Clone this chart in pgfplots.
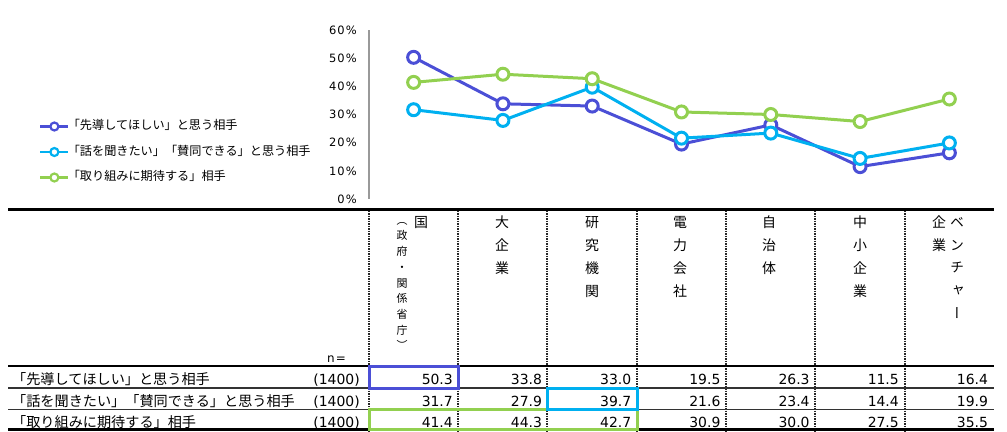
\documentclass[border=0pt]{standalone}
\usepackage{fontspec}
\usepackage{pgfplots}
\pgfplotsset{compat=1.18}
\setmainfont{DejaVu Sans}
\newfontfamily\jp{Noto Sans CJK JP}
\newfontfamily\jpv[RawFeature={+vert}]{Noto Sans CJK JP}
\newfontfamily\tickf[LetterSpace=10]{DejaVu Sans}
\definecolor{cblue}{HTML}{4B4FD6}
\definecolor{ccyan}{HTML}{00B0F0}
\definecolor{cgreen}{HTML}{92D050}
\newcommand{\vtext}[5]{% x, first center img y, pitch, baseline offset, chars
  \foreach \c [count=\i from 0] in {#5} {\node[anchor=base, inner sep=0pt] at (#1, {431-#2-#4-\i*#3}) {\c};}}
\begin{document}
\begin{tikzpicture}[x=1bp,y=1bp]
\begin{scope}[shift={(369bp,232bp)}]
\begin{axis}[
  at={(0bp,0bp)}, anchor=south west,
  scale only axis, width=625bp, height=169bp,
  xmin=-0.5, xmax=6.5, ymin=0, ymax=60,
  axis x line*=bottom, axis y line*=left,
  x axis line style={draw=none},
  y axis line style={draw=black!40, line width=1.3bp},
  xtick=\empty,
  ytick={0,10,...,60}, major tick length=0pt,
  yticklabel={\pgfmathprintnumber{\tick}\%},
  /pgf/number format/assume math mode=true,
  yticklabel style={font=\tickf\fontsize{11.5}{13}\selectfont, inner sep=0pt, anchor=east, xshift=-12bp},
  clip=false,
  every axis plot/.append style={line width=3bp, mark=*, mark size=6bp, mark options={fill=white, line width=3bp}},
  legend style={at={(-0.528,0.463)}, anchor=north west, draw=none, fill=none, inner sep=0pt, outer sep=0pt, row sep=14bp, font=\jp\fontsize{12.2}{13}\selectfont, nodes={inner sep=0pt, text height=9bp, text depth=2.5bp, anchor=west}, /tikz/every odd column/.append style={column sep=-2bp}},
  legend cell align=left,
  legend image code/.code={\draw[mark repeat=2, mark phase=2, mark size=4bp, line width=2.8bp, mark options={fill=white, line width=2.2bp}] plot coordinates {(0bp,0bp) (14bp,0bp) (28bp,0bp)};},
]
\addplot[cblue] coordinates {(0,50.3)(1,33.8)(2,33.0)(3,19.5)(4,26.3)(5,11.5)(6,16.4)};
\addlegendentry{「先導してほしい」と思う相手}
\addplot[ccyan] coordinates {(0,31.7)(1,27.9)(2,39.7)(3,21.6)(4,23.4)(5,14.4)(6,19.9)};
\addlegendentry{「話を聞きたい」「賛同できる」と思う相手}
\addplot[cgreen] coordinates {(0,41.4)(1,44.3)(2,42.7)(3,30.9)(4,30.0)(5,27.5)(6,35.5)};
\addlegendentry{「取り組みに期待する」相手}
\end{axis}
\end{scope}
\path (0,0) rectangle (1007,431);
% table rules
\draw[line width=3bp] (8,222) -- (994,222);
\foreach \x in {369,458,547,637,726,815,905}
  \draw[black!85, line width=1.2bp, dash pattern=on 1.5bp off 1bp] (\x,220.5) -- (\x,0);
\draw[line width=1.5bp] (8,65) -- (994,65);
\draw[black!80, line width=1.5bp] (8,43) -- (994,43);
\draw[black!80, line width=1.5bp] (8,21.5) -- (994,21.5);
\draw[line width=2.2bp] (8,1.5) -- (994,1.5);
% header
\begin{scope}[font=\jpv\fontsize{14}{16}\selectfont]
\vtext{421}{222}{23}{5.3}{国}
\vtext{502}{222}{23}{5.3}{大,企,業}
\vtext{592}{222}{23}{5.3}{研,究,機,関}
\vtext{680}{222}{23}{5.3}{電,力,会,社}
\vtext{769}{222}{23}{5.3}{自,治,体}
\vtext{860}{222}{23}{5.3}{中,小,企,業}
\vtext{957}{222}{22.8}{5.3}{ベ,ン,チ,ャ,ー}
\vtext{939}{222}{23}{5.3}{企,業}
\end{scope}
\begin{scope}[font=\jpv\fontsize{11}{13}\selectfont]
\vtext{402}{220}{15.7}{4.2}{（,政,府,・,関,係,省,庁,）}
\end{scope}
\node[anchor=base east, inner sep=0pt, font=\tickf\fontsize{12}{14}\selectfont] at (346,69) {n=};
% row labels
\begin{scope}[font=\jp\fontsize{14.2}{16}\selectfont]
\node[anchor=base west, inner sep=0pt] at (12,47) {「先導してほしい」と思う相手};
\node[anchor=base west, inner sep=0pt] at (12,25) {「話を聞きたい」「賛同できる」と思う相手};
\node[anchor=base west, inner sep=0pt] at (12,4) {「取り組みに期待する」相手};
\end{scope}
\begin{scope}[font=\fontsize{14}{16}\selectfont]
\foreach \yy in {47,25,4} \node[anchor=base east, inner sep=0pt] at (360,\yy) {(1400)};
\foreach \v [count=\i from 0] in {50.3,33.8,33.0,19.5,26.3,11.5,16.4}
  \node[anchor=base east, inner sep=0pt] at ({453+\i*89.2},47) {\v};
\foreach \v [count=\i from 0] in {31.7,27.9,39.7,21.6,23.4,14.4,19.9}
  \node[anchor=base east, inner sep=0pt] at ({453+\i*89.2},25) {\v};
\foreach \v [count=\i from 0] in {41.4,44.3,42.7,30.9,30.0,27.5,35.5}
  \node[anchor=base east, inner sep=0pt] at ({453+\i*89.2},4) {\v};
\end{scope}
% highlight boxes
\draw[cgreen, line width=3bp] (369,1.5) rectangle (637,21.5);
\draw[ccyan, line width=3bp] (547,21.5) rectangle (637,43);
\draw[cblue, line width=3bp] (369,43) rectangle (458,65);
\end{tikzpicture}
\end{document}
